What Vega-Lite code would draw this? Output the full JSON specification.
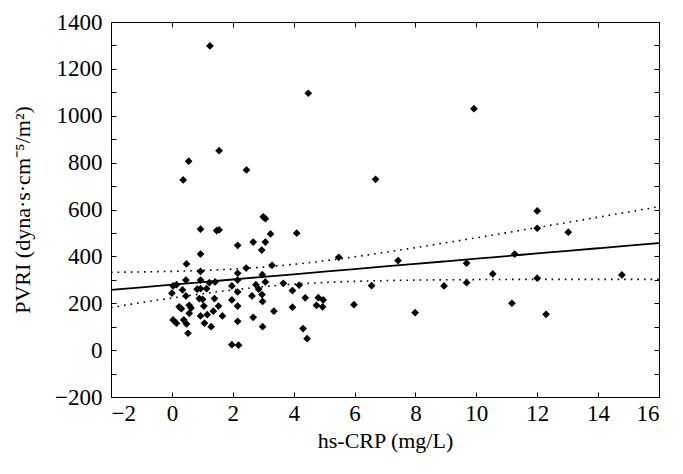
{
  "$schema": "https://vega.github.io/schema/vega-lite/v6.json",
  "width": 548,
  "height": 375,
  "autosize": {"type": "none"},
  "padding": {"left": 111, "top": 22, "right": 24, "bottom": 77},
  "background": "white",
  "config": {
    "view": {"stroke": "black", "strokeWidth": 1},
    "font": "Liberation Serif",
    "axis": {
      "grid": false,
      "domainColor": "black",
      "tickColor": "black",
      "labelColor": "black",
      "titleColor": "black",
      "titleFontWeight": "normal",
      "tickSize": -5,
      "tickWidth": 1,
      "format": "d"
    }
  },
  "datasets": {
    "points": [
      {"crp": 0.37, "pvri": 726}, {"crp": 3.0, "pvri": 569}, {"crp": 3.07, "pvri": 561}, {"crp": 0.94, "pvri": 516},
      {"crp": 1.47, "pvri": 510}, {"crp": 1.55, "pvri": 513}, {"crp": 4.1, "pvri": 499}, {"crp": 3.24, "pvri": 496},
      {"crp": 2.67, "pvri": 461}, {"crp": 3.07, "pvri": 461}, {"crp": 2.16, "pvri": 447}, {"crp": 2.95, "pvri": 427},
      {"crp": 0.94, "pvri": 410}, {"crp": 0.48, "pvri": 368}, {"crp": 3.29, "pvri": 362}, {"crp": 2.44, "pvri": 350},
      {"crp": 0.94, "pvri": 336}, {"crp": 2.16, "pvri": 328}, {"crp": 2.97, "pvri": 322}, {"crp": 0.46, "pvri": 299},
      {"crp": 0.94, "pvri": 299}, {"crp": 1.23, "pvri": 288}, {"crp": 1.42, "pvri": 291}, {"crp": 2.16, "pvri": 299},
      {"crp": 3.07, "pvri": 291}, {"crp": 3.66, "pvri": 285}, {"crp": 4.18, "pvri": 277}, {"crp": 0.04, "pvri": 274},
      {"crp": 0.15, "pvri": 279}, {"crp": 0.0, "pvri": 243}, {"crp": 0.35, "pvri": 257}, {"crp": 0.83, "pvri": 260},
      {"crp": 0.94, "pvri": 262}, {"crp": 1.14, "pvri": 262}, {"crp": 1.97, "pvri": 274}, {"crp": 2.76, "pvri": 279},
      {"crp": 2.85, "pvri": 260}, {"crp": 2.16, "pvri": 248}, {"crp": 3.96, "pvri": 254}, {"crp": 0.46, "pvri": 231},
      {"crp": 0.9, "pvri": 220}, {"crp": 1.01, "pvri": 217}, {"crp": 1.4, "pvri": 220}, {"crp": 2.96, "pvri": 237},
      {"crp": 2.63, "pvri": 231}, {"crp": 4.38, "pvri": 223}, {"crp": 1.97, "pvri": 214}, {"crp": 2.98, "pvri": 208},
      {"crp": 0.24, "pvri": 185}, {"crp": 0.31, "pvri": 177}, {"crp": 0.57, "pvri": 191}, {"crp": 0.63, "pvri": 180},
      {"crp": 1.05, "pvri": 188}, {"crp": 1.53, "pvri": 188}, {"crp": 2.16, "pvri": 188}, {"crp": 3.96, "pvri": 183},
      {"crp": 0.57, "pvri": 157}, {"crp": 0.94, "pvri": 146}, {"crp": 1.16, "pvri": 151}, {"crp": 1.36, "pvri": 166},
      {"crp": 1.66, "pvri": 146}, {"crp": 3.35, "pvri": 166}, {"crp": 0.04, "pvri": 129}, {"crp": 0.15, "pvri": 115},
      {"crp": 0.39, "pvri": 129}, {"crp": 0.48, "pvri": 112}, {"crp": 1.07, "pvri": 115}, {"crp": 1.29, "pvri": 100},
      {"crp": 2.16, "pvri": 123}, {"crp": 2.67, "pvri": 140}, {"crp": 2.98, "pvri": 100}, {"crp": 0.53, "pvri": 72},
      {"crp": 4.31, "pvri": 92}, {"crp": 4.44, "pvri": 49}, {"crp": 1.97, "pvri": 23}, {"crp": 2.19, "pvri": 21},
      {"crp": 1.25, "pvri": 1298}, {"crp": 4.48, "pvri": 1096}, {"crp": 1.55, "pvri": 851}, {"crp": 0.55, "pvri": 806},
      {"crp": 2.45, "pvri": 769}, {"crp": 9.92, "pvri": 1030}, {"crp": 6.69, "pvri": 729}, {"crp": 5.48, "pvri": 396},
      {"crp": 7.43, "pvri": 382}, {"crp": 9.68, "pvri": 371}, {"crp": 10.54, "pvri": 325}, {"crp": 6.56, "pvri": 275},
      {"crp": 8.94, "pvri": 274}, {"crp": 9.68, "pvri": 288}, {"crp": 4.81, "pvri": 224}, {"crp": 4.97, "pvri": 214},
      {"crp": 4.75, "pvri": 191}, {"crp": 4.95, "pvri": 185}, {"crp": 5.98, "pvri": 194}, {"crp": 7.99, "pvri": 160},
      {"crp": 12.0, "pvri": 594}, {"crp": 12.0, "pvri": 520}, {"crp": 13.02, "pvri": 503}, {"crp": 11.26, "pvri": 410},
      {"crp": 12.0, "pvri": 307}, {"crp": 14.78, "pvri": 321}, {"crp": 11.17, "pvri": 200}, {"crp": 12.29, "pvri": 153}
    ],
    "fit": [
      {"crp": -2, "fit": 257.0, "lower": 182.0, "upper": 332.0},
      {"crp": -1, "fit": 268.1, "lower": 202.6, "upper": 333.6},
      {"crp": 0, "fit": 279.2, "lower": 222.2, "upper": 336.2},
      {"crp": 1, "fit": 290.3, "lower": 240.6, "upper": 340.0},
      {"crp": 2, "fit": 301.4, "lower": 257.0, "upper": 345.8},
      {"crp": 3, "fit": 312.5, "lower": 270.7, "upper": 354.3},
      {"crp": 4, "fit": 323.6, "lower": 281.1, "upper": 366.1},
      {"crp": 5, "fit": 334.7, "lower": 288.5, "upper": 380.9},
      {"crp": 6, "fit": 345.8, "lower": 293.4, "upper": 398.2},
      {"crp": 7, "fit": 356.9, "lower": 296.6, "upper": 417.2},
      {"crp": 8, "fit": 368.0, "lower": 298.8, "upper": 437.2},
      {"crp": 9, "fit": 379.1, "lower": 300.1, "upper": 458.1},
      {"crp": 10, "fit": 390.2, "lower": 301.0, "upper": 479.4},
      {"crp": 11, "fit": 401.3, "lower": 301.6, "upper": 501.0},
      {"crp": 12, "fit": 412.4, "lower": 301.9, "upper": 522.9},
      {"crp": 13, "fit": 423.5, "lower": 302.0, "upper": 545.0},
      {"crp": 14, "fit": 434.6, "lower": 302.0, "upper": 567.2},
      {"crp": 15, "fit": 445.7, "lower": 301.9, "upper": 589.5},
      {"crp": 16, "fit": 456.8, "lower": 301.7, "upper": 611.9}
    ]
  },
  "resolve": {"axis": {"x": "independent", "y": "independent"}},
  "layer": [
    {
      "data": {"name": "fit"},
      "mark": {"type": "line", "color": "black", "strokeWidth": 1.8, "interpolate": "monotone"},
      "encoding": {
        "x": {"field": "crp", "type": "quantitative", "scale": {"domain": [-2, 16], "nice": false, "zero": false},
              "axis": {"orient": "top", "labels": false, "title": null, "values": [-2, 0, 2, 4, 6, 8, 10, 12, 14, 16], "domain": false}},
        "y": {"field": "fit", "type": "quantitative", "scale": {"domain": [-200, 1400], "nice": false, "zero": false},
              "axis": {"orient": "right", "labels": false, "title": null, "values": [-200, -100, 0, 100, 200, 300, 400, 500, 600, 700, 800, 900, 1000, 1100, 1200, 1300, 1400], "domain": false}}
      }
    },
    {
      "data": {"name": "fit"},
      "mark": {"type": "line", "color": "black", "strokeWidth": 1.6, "strokeDash": [1.6, 5], "interpolate": "monotone"},
      "encoding": {
        "x": {"field": "crp", "type": "quantitative", "axis": null},
        "y": {"field": "upper", "type": "quantitative", "axis": null}
      }
    },
    {
      "data": {"name": "fit"},
      "mark": {"type": "line", "color": "black", "strokeWidth": 1.6, "strokeDash": [1.6, 5], "interpolate": "monotone"},
      "encoding": {
        "x": {"field": "crp", "type": "quantitative", "axis": null},
        "y": {"field": "lower", "type": "quantitative", "axis": null}
      }
    },
    {
      "data": {"name": "points"},
      "mark": {"type": "point", "shape": "diamond", "filled": true, "color": "black", "size": 60, "opacity": 1},
      "encoding": {
        "x": {"field": "crp", "type": "quantitative",
              "axis": {"orient": "bottom", "title": "hs-CRP (mg/L)", "values": [-2, 0, 2, 4, 6, 8, 10, 12, 14, 16],
                       "labelFont": "Liberation Serif", "titleFont": "Liberation Serif", "labelFontSize": 23, "titleFontSize": 22,
                       "labelPadding": 10, "titlePadding": 5, "domain": false}},
        "y": {"field": "pvri", "type": "quantitative",
              "axis": {"orient": "left", "title": "PVRI (dyna·s·cm⁻⁵/m²)", "values": [-200, -100, 0, 100, 200, 300, 400, 500, 600, 700, 800, 900, 1000, 1100, 1200, 1300, 1400],
                       "labelFont": "Liberation Serif", "titleFont": "Liberation Serif", "labelFontSize": 23, "titleFontSize": 22,
                       "labelExpr": "datum.value % 200 === 0 ? datum.label : ''", "labelPadding": 14, "titlePadding": 20, "domain": false}}
      }
    }
  ]
}
